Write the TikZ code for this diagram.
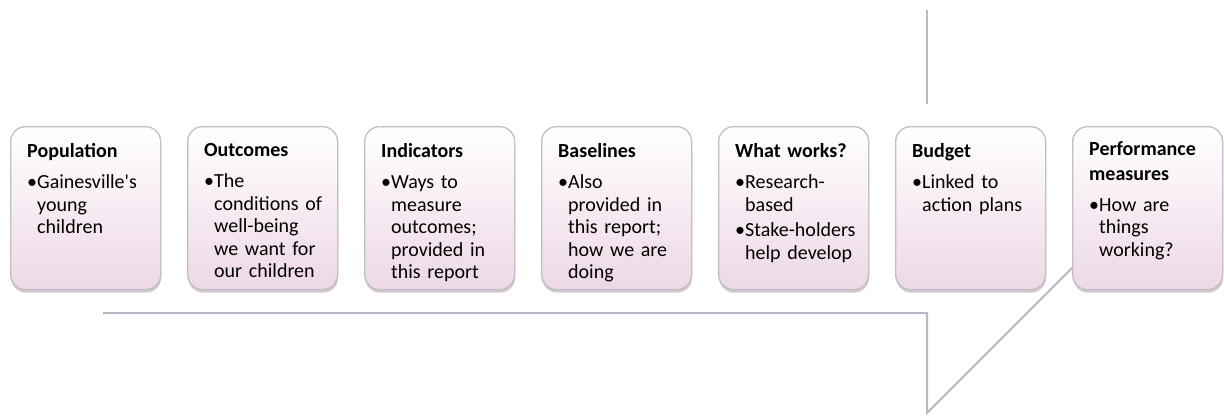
\documentclass[tikz,border=0pt]{standalone}
\usepackage{fontspec}
\setmainfont{Carlito}
\newfontfamily\aposfont{Carlito}[Ligatures=ResetAll]
\usetikzlibrary{shadows}
\definecolor{boxline}{RGB}{192,190,200}
\definecolor{boxbot}{RGB}{238,216,230}
\definecolor{arrowline}{RGB}{186,184,198}
\definecolor{shadowc}{RGB}{150,120,140}
\newcommand{\bul}{\makebox[10pt][l]{•}}
\newcommand{\ind}{\hspace*{10pt}}
\newcommand{\sq}{{\aposfont'}}
\tikzset{
  card/.style={draw=boxline, line width=1.3pt, rounded corners=15pt,
    top color=white, bottom color=boxbot,
    minimum width=150pt, minimum height=163pt, inner sep=0pt, anchor=north west,
    drop shadow={shadow xshift=0.5pt, shadow yshift=-3pt, opacity=0.4, fill=shadowc}},
  cardtext/.style={anchor=north west, inner sep=0pt, text width=132pt, align=left,
    font=\fontsize{20}{22.5}\selectfont, text=black},
  arrowedge/.style={draw=arrowline, line width=2pt}
}
\begin{document}
\begin{tikzpicture}[x=1pt,y=-1pt]
\useasboundingbox (0,0) rectangle (1224,416);
\fill[white] (0,0) rectangle (1224,416);
% big arrow outline
\coordinate (aL) at (103,313);
\coordinate (aB) at (927,313);
\coordinate (aBot) at (927,413);
\coordinate (aTip) at (1129,211);
\coordinate (aTop) at (927,10);
\coordinate (aTopIn) at (927,104);
\draw[arrowedge] (aL) -- (aB) -- (aBot) -- (aTip);
\draw[arrowedge] (aTop) -- (aTopIn);
% cards
\node[card] (c1) at (10,126) {};
\node[card] (c2) at (187,126) {};
\node[card] (c3) at (364,126) {};
\node[card] (c4) at (541,126) {};
\node[card] (c5) at (718,126) {};
\node[card] (c6) at (895,126) {};
\node[card] (c7) at (1072,126) {};
\node[cardtext] (t1) at ([xshift=17pt,yshift=-17pt]c1.north west)
  {\textbf{Population}\\[9pt]\bul Gainesville\sq s\\\ind young\\\ind children};
\node[cardtext] (t2) at ([xshift=17pt,yshift=-17pt]c2.north west)
  {\textbf{Outcomes}\\[9pt]\bul The\\\ind conditions of\\\ind well-being\\\ind we want for\\\ind our children};
\node[cardtext] (t3) at ([xshift=17pt,yshift=-17pt]c3.north west)
  {\textbf{Indicators}\\[9pt]\bul Ways to\\\ind measure\\\ind outcomes;\\\ind provided in\\\ind this report};
\node[cardtext] (t4) at ([xshift=17pt,yshift=-17pt]c4.north west)
  {\textbf{Baselines}\\[9pt]\bul Also\\\ind provided in\\\ind this report;\\\ind how we are\\\ind doing};
\node[cardtext] (t5) at ([xshift=17pt,yshift=-17pt]c5.north west)
  {\textbf{What works?}\\[9pt]\bul Research-\\\ind based\\[3pt]\bul Stake-holders\\\ind help develop};
\node[cardtext] (t6) at ([xshift=17pt,yshift=-17pt]c6.north west)
  {\textbf{Budget}\\[9pt]\bul Linked to\\\ind action plans};
\node[cardtext] (t7) at ([xshift=17pt,yshift=-15pt]c7.north west)
  {\textbf{Performance}\\[3pt]\textbf{measures}\\[8pt]\bul How are\\\ind things\\\ind working?};
\end{tikzpicture}
\end{document}
